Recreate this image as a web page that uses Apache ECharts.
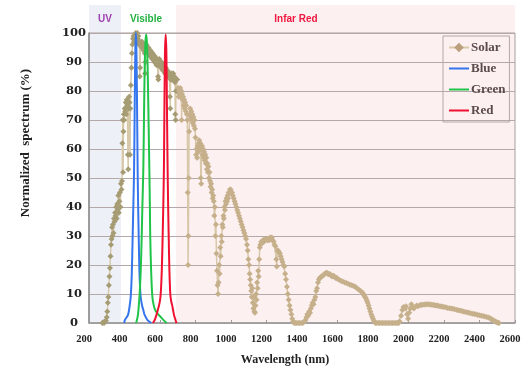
<!DOCTYPE html>
<html>
<head>
<meta charset="utf-8">
<script src="https://cdn.jsdelivr.net/npm/echarts@6/dist/echarts.min.js"></script>
<style>html,body{margin:0;padding:0;background:#fff}#c{width:530px;height:371px}</style>
</head>
<body>
<div id="c"></div>
<script>
// ---- data ----
const xTicks = [200, 400, 600, 800, 1000, 1200, 1400, 1600, 1800, 2000, 2200, 2400, 2600];
const yTicks = [0, 10, 20, 30, 40, 50, 60, 70, 80, 90, 100];
const seriesNames = ['Solar', 'Blue', 'Green', 'Red'];
const bandNames = ['UV', 'Visible', 'Infar Red'];
const bandEdges = [200, 380, 690, 2600];
const bandLabelWl = [290, 521, 1366];

const solarData = [
[275,0],[280,0.3],[285,0],[290,0.5],[295,0.8],[300,2],[303,4],[306,7],[309,9],[312,13],[315,16],[318,19],[321,23],[324,27],[327,29],[330,33],[332,30],[335,34],[338,31],[341,36],[344,35],[347,38],[350,37],[353,40],[356,36],[359,41],[362,39],[365,44],[368,38],[371,42],[374,45],[377,40],[380,48],[383,46],[386,49],[388,62],[390,70],[392,52],[394,66],[396,72],[398,70],[401,74],[404,73],[407,76],[410,72],[413,77],[416,75],[419,58],[421,53],[423,74],[426,78],[429,76],[431,58],[433,74],[436,82],[439,88],[442,93],[445,96],[448,98],[451,99],[454,97],[457,99],[460,98],[463,100],[466,99],[469,97],[472,100],[475,98],[478,99],[481,96],[484,97],[486,85],[488,88],[490,96],[493,97],[496,95],[499,97],[502,95],[505,96],[508,94],[511,96],[514,93],[516,86],[518,90],[520,95],[523,96],[526,94],[529,95],[532,93],[535,95],[538,93],[541,94],[544,92],[547,94],[550,92],[553,93],[556,91],[559,93],[562,91],[565,92],[568,90],[571,92],[574,90],[577,91],[580,89],[583,91],[586,89],[589,85],[591,84],[593,89],[596,91],[599,89],[602,90],[605,88],[608,90],[611,88],[614,89],[617,87],[620,89],[623,87],[626,88],[629,86],[632,88],[635,86],[638,87],[641,85],[644,87],[647,85],[650,86],[653,85],[656,78],[658,74],[660,84],[663,86],[666,84],[669,86],[672,84],[675,86],[678,84],[681,85],[684,83],[686,72],[688,70],[690,80],[693,84],
[696,84],[699,80],[702,81],[705,78],[708,80],[711,79],[714,81],[717,78],[720,80],[722,70],[724,79],[727,77],[730,78],[733,75],[736,77],[739,74],[742,76],[745,73],[748,75],[751,72],[754,70],[756,45],[758,20],[760,30],[762,50],[764,66],[767,72],[770,74],[773,71],[776,73],[779,70],[782,72],[785,69],[788,71],[791,68],[794,70],[797,67],[800,64],[803,58],[806,60],[809,57],[812,61],[815,59],[818,62],[821,63],[824,60],[827,62],[830,50],[832,48],[834,60],[837,61],[840,58],[843,60],[846,57],[849,59],[852,56],[855,58],[858,55],[861,57],[864,53],[867,55],[870,52],[873,54],[876,50],[879,52],[882,49],[885,47],[888,48],[891,45],[894,46],[897,43],[900,44],[903,42],[906,37],[909,40],[912,30],[915,34],[918,24],[921,18],[924,13],[927,10],[930,14],[933,20],[936,17],[939,26],[942,23],[945,30],[948,28],[951,34],[954,33],[957,37],[960,36],[963,40],[966,39],[969,42],[972,41],[975,43],[978,42],[981,44],[984,43],[987,45],[990,45],[994,46],[998,46],[1002,45],
[1006,45],[1010,44],[1015,43],[1020,42],[1025,41],[1030,40],[1035,39],[1040,38],[1045,37],[1050,36],[1055,35],[1060,34],[1065,33],[1070,32],[1075,31],[1080,30],[1085,29],[1090,27],[1094,25],[1098,22],[1102,20],[1105,17],[1108,15],[1111,13],[1114,11],[1117,9],[1120,12],[1123,7],[1126,5],[1129,9],[1132,4],[1135,3.5],[1138,6],[1141,10],[1144,8],[1147,14],[1150,12],[1153,18],[1156,16],[1159,22],[1162,26],[1165,27],[1170,28],[1175,27.5],[1180,28.5],[1185,28],[1190,29],[1195,28.5],[1200,29],[1205,28.5],[1210,29],[1215,28.5],[1220,29.5],[1225,29],[1230,29.5],[1235,28.5],[1240,28],[1245,27],[1250,26.5],[1255,22],[1258,19.5],[1261,25],[1265,25],[1270,24.5],[1275,24],[1280,23],[1285,22],[1290,21],[1295,20],[1300,19.5],[1305,17],[1310,15],[1315,12.5],[1320,10],[1325,8],[1330,6],[1335,4.5],[1340,3],[1345,1.5],[1350,0.5],
[1355,0],[1362,0],[1370,0],[1378,0],[1386,0],[1394,0],[1402,0],[1408,0.2],[1414,0.6],[1420,1],[1425,2],[1430,3],[1435,2.5],[1440,4],[1445,3.5],[1450,5],[1455,6],[1460,7],[1465,6.5],[1470,8],[1475,9],[1480,11],[1485,12],[1490,14],[1495,15],[1500,15.5],[1505,15.8],[1510,16],[1515,16.2],[1520,16.5],[1525,16.8],[1530,17],[1535,17.2],[1540,17.3],[1545,17],[1550,16.8],[1555,16.9],[1560,16.7],[1565,16.3],[1570,16],[1575,16.3],[1580,16.2],[1585,15.8],[1590,15.5],[1595,15.6],[1600,15.3],[1610,14.9],[1620,14.5],[1630,14.3],[1640,14],[1650,13.8],[1660,13.5],[1670,13.2],[1680,13],[1690,12.8],[1700,12.5],[1710,12],[1720,11.5],[1730,11],[1740,10.5],[1745,10],[1750,9.5],[1755,9],[1760,8.5],[1765,7.8],[1770,7],[1775,6],[1780,5],[1785,4],[1790,3],[1795,2.2],[1800,1.5],[1805,0.8],[1810,0.2],[1815,0],
[1822,0],[1830,0],[1838,0],[1846,0],[1854,0],[1862,0],[1870,0],[1878,0],[1886,0],[1894,0],[1902,0],[1910,0],[1918,0],[1926,0],[1934,0],[1940,0],[1945,0],[1950,0.5],[1958,2.5],[1965,4.5],[1972,5.5],[1980,5],[1986,5.8],[1992,3],[1998,1.5],[2004,3.5],[2010,5],[2016,6.5],[2022,5.5],[2030,5],[2038,5.5],[2046,6],[2055,5.8],[2065,6.2],[2072,6.2],[2080,6.3],[2088,6.4],[2095,6.4],[2102,6.5],[2110,6.5],[2118,6.4],[2125,6.4],[2132,6.3],[2140,6.2],[2148,6.1],[2155,6],[2162,6],[2170,5.9],[2178,5.8],[2185,5.7],[2192,5.6],[2200,5.5],[2210,5.4],[2220,5.2],[2230,5.1],[2240,5],[2250,4.9],[2260,4.7],[2270,4.6],[2280,4.4],[2290,4.3],[2300,4.1],[2310,4],[2320,3.8],[2330,3.7],[2340,3.5],[2350,3.4],[2360,3.2],[2370,3.1],[2380,3],[2390,2.8],[2400,2.7],[2410,2.5],[2420,2.4],[2430,2.2],[2440,2.1],[2450,1.9],[2460,1.6],[2465,1.4],[2470,1.2],[2475,1],[2480,0.8],[2485,0.6],[2490,0.5],[2495,0.3],[2500,0.2],[2505,0.1],[2510,0]
];

const blueData = [[398,0],[402,1],[410,1.8],[416,2.3],[421,3],[428,5.5],[435,9],[441,17],[446,30],[450,41],[454,53],[458,78],[461,94],[464,100],[467,95],[470,80],[474,53],[477,40],[480,30],[484,18],[488,12],[491,9],[496,7],[501,5.5],[506,4.5],[512,3],[520,2],[530,1],[544,0.3],[550,0]];
const greenData = [[465,0],[470,1],[476,3],[482,7],[487,12],[492,19],[497,30],[501,41],[506,53],[510,72],[514,89],[518,97],[522,99.5],[526,97],[530,89],[535,72],[540,53],[543,40],[545,30],[550,18],[557,9],[565,6],[575,4.2],[590,3],[605,2],[620,1],[638,0]];
const redData = [[560,0],[570,1],[581,3],[590,5],[598,7],[604,10],[610,18],[615,30],[619,42],[622,53],[625,75],[628,93],[632,99.5],[636,93],[639,75],[643,53],[646,40],[649,30],[653,18],[658,10],[663,7.5],[669,6],[675,4],[680,2.5],[685,1.5],[690,0.5],[694,0]];

// ---- styles ----
const bandColors = ['#eef0f8', '#ffffff', '#fdf0f0'];
const bandLabelColors = ['#a040b0', '#20b040', '#f01840'];
const ledColors = ['#3575ee', '#20c448', '#f01030'];
const serif = 'Liberation Serif';

const chart = echarts.init(document.getElementById('c'), null, {renderer: 'canvas'});

const solarSeriesData = solarData.map(p => p[0] < 700
  ? {value: p, itemStyle: {color: '#a69c74'}}
  : {value: p});

const legendData = seriesNames.map((n, i) => i === 0
  ? {name: n, itemStyle: {color: '#bba07e'}}
  : {name: n, itemStyle: {opacity: 0}});

const option = {
  animation: false,
  grid: {left: 89, right: 15, top: 33, bottom: 47, show: true, borderColor: '#a89e9e', borderWidth: 1, backgroundColor: 'transparent'},
  legend: {
    orient: 'vertical', left: 443, top: 36,
    data: legendData,
    backgroundColor: 'transparent',
    borderColor: '#b2a8a8', borderWidth: 1,
    padding: [5, 4, 5, 5],
    itemWidth: 20, itemHeight: 12, itemGap: 8,
    textStyle: {fontFamily: serif, fontWeight: 'bold', fontSize: 13, color: '#5b4b4b', padding: [0, 0, 0, -3]}
  },
  xAxis: {
    type: 'value', min: xTicks[0], max: xTicks[xTicks.length - 1], interval: 200,
    name: 'Wavelength (nm)', nameLocation: 'middle', nameGap: 31,
    nameTextStyle: {fontFamily: serif, fontWeight: 'bold', fontSize: 12, color: '#222', padding: [0, 34, 0, 0]},
    axisLine: {lineStyle: {color: '#999', width: 1.5}},
    axisTick: {show: true, inside: true, length: 3, lineStyle: {color: '#999'}},
    axisLabel: {fontFamily: serif, fontWeight: 'bold', fontSize: 10.5, color: '#222', margin: 11, padding: [0, 10, 0, 0],
      formatter: v => String(v)},
    splitLine: {show: false}
  },
  yAxis: {
    type: 'value', min: yTicks[0], max: yTicks[yTicks.length - 1], interval: 10,
    name: 'Normalized  spectrum (%)', nameLocation: 'middle', nameGap: 57, nameRotate: 90,
    nameTextStyle: {fontFamily: serif, fontWeight: 'bold', fontSize: 13, color: '#222', padding: [0, 0, 0, 70]},
    axisLine: {show: true, lineStyle: {color: '#8c8c8c', width: 1.5}},
    axisTick: {show: false},
    axisLabel: {fontFamily: 'DejaVu Serif', fontWeight: 'bold', fontSize: 11.5, color: '#222', margin: 15, align: 'center',
      formatter: v => String(v)},
    splitLine: {lineStyle: {color: '#b5a8a8', width: 1.2}}
  },
  series: [
    {
      name: seriesNames[0], type: 'line', data: solarSeriesData,
      symbol: 'diamond', symbolSize: 6, showAllSymbol: true,
      lineStyle: {color: '#d8c8aa', width: 1.5},
      itemStyle: {color: '#c6b08c'}, z: 2
    },
    {
      name: seriesNames[1], type: 'line', data: blueData, symbol: 'none', smooth: 0.3,
      lineStyle: {color: ledColors[0], width: 2}, itemStyle: {color: ledColors[0]}, z: 3
    },
    {
      name: seriesNames[2], type: 'line', data: greenData, symbol: 'none', smooth: 0.3,
      lineStyle: {color: ledColors[1], width: 2}, itemStyle: {color: ledColors[1]}, z: 3
    },
    {
      name: seriesNames[3], type: 'line', data: redData, symbol: 'none', smooth: 0.3,
      lineStyle: {color: ledColors[2], width: 2}, itemStyle: {color: ledColors[2]}, z: 3
    }
  ]
};
chart.setOption(option);

// background bands (extend above plot top) and labels
const yBottom = chart.convertToPixel({gridIndex: 0}, [200, 0])[1];
const elements = [];
for (let i = 0; i < bandNames.length; i++) {
  const x0 = chart.convertToPixel({gridIndex: 0}, [bandEdges[i], 0])[0];
  const x1 = chart.convertToPixel({gridIndex: 0}, [bandEdges[i + 1], 0])[0];
  elements.push({
    type: 'rect', z: -10, silent: true,
    shape: {x: x0, y: 5, width: x1 - x0, height: yBottom - 5},
    style: {fill: bandColors[i]}
  });
  const xl = chart.convertToPixel({gridIndex: 0}, [bandLabelWl[i], 0])[0];
  elements.push({
    type: 'text', z: 5, silent: true, x: xl, y: 19,
    style: {text: bandNames[i], fill: bandLabelColors[i], font: 'bold 10px "Liberation Sans"', align: 'center', verticalAlign: 'middle'}
  });
}
chart.setOption({graphic: {elements: elements}});
</script>
</body>
</html>
